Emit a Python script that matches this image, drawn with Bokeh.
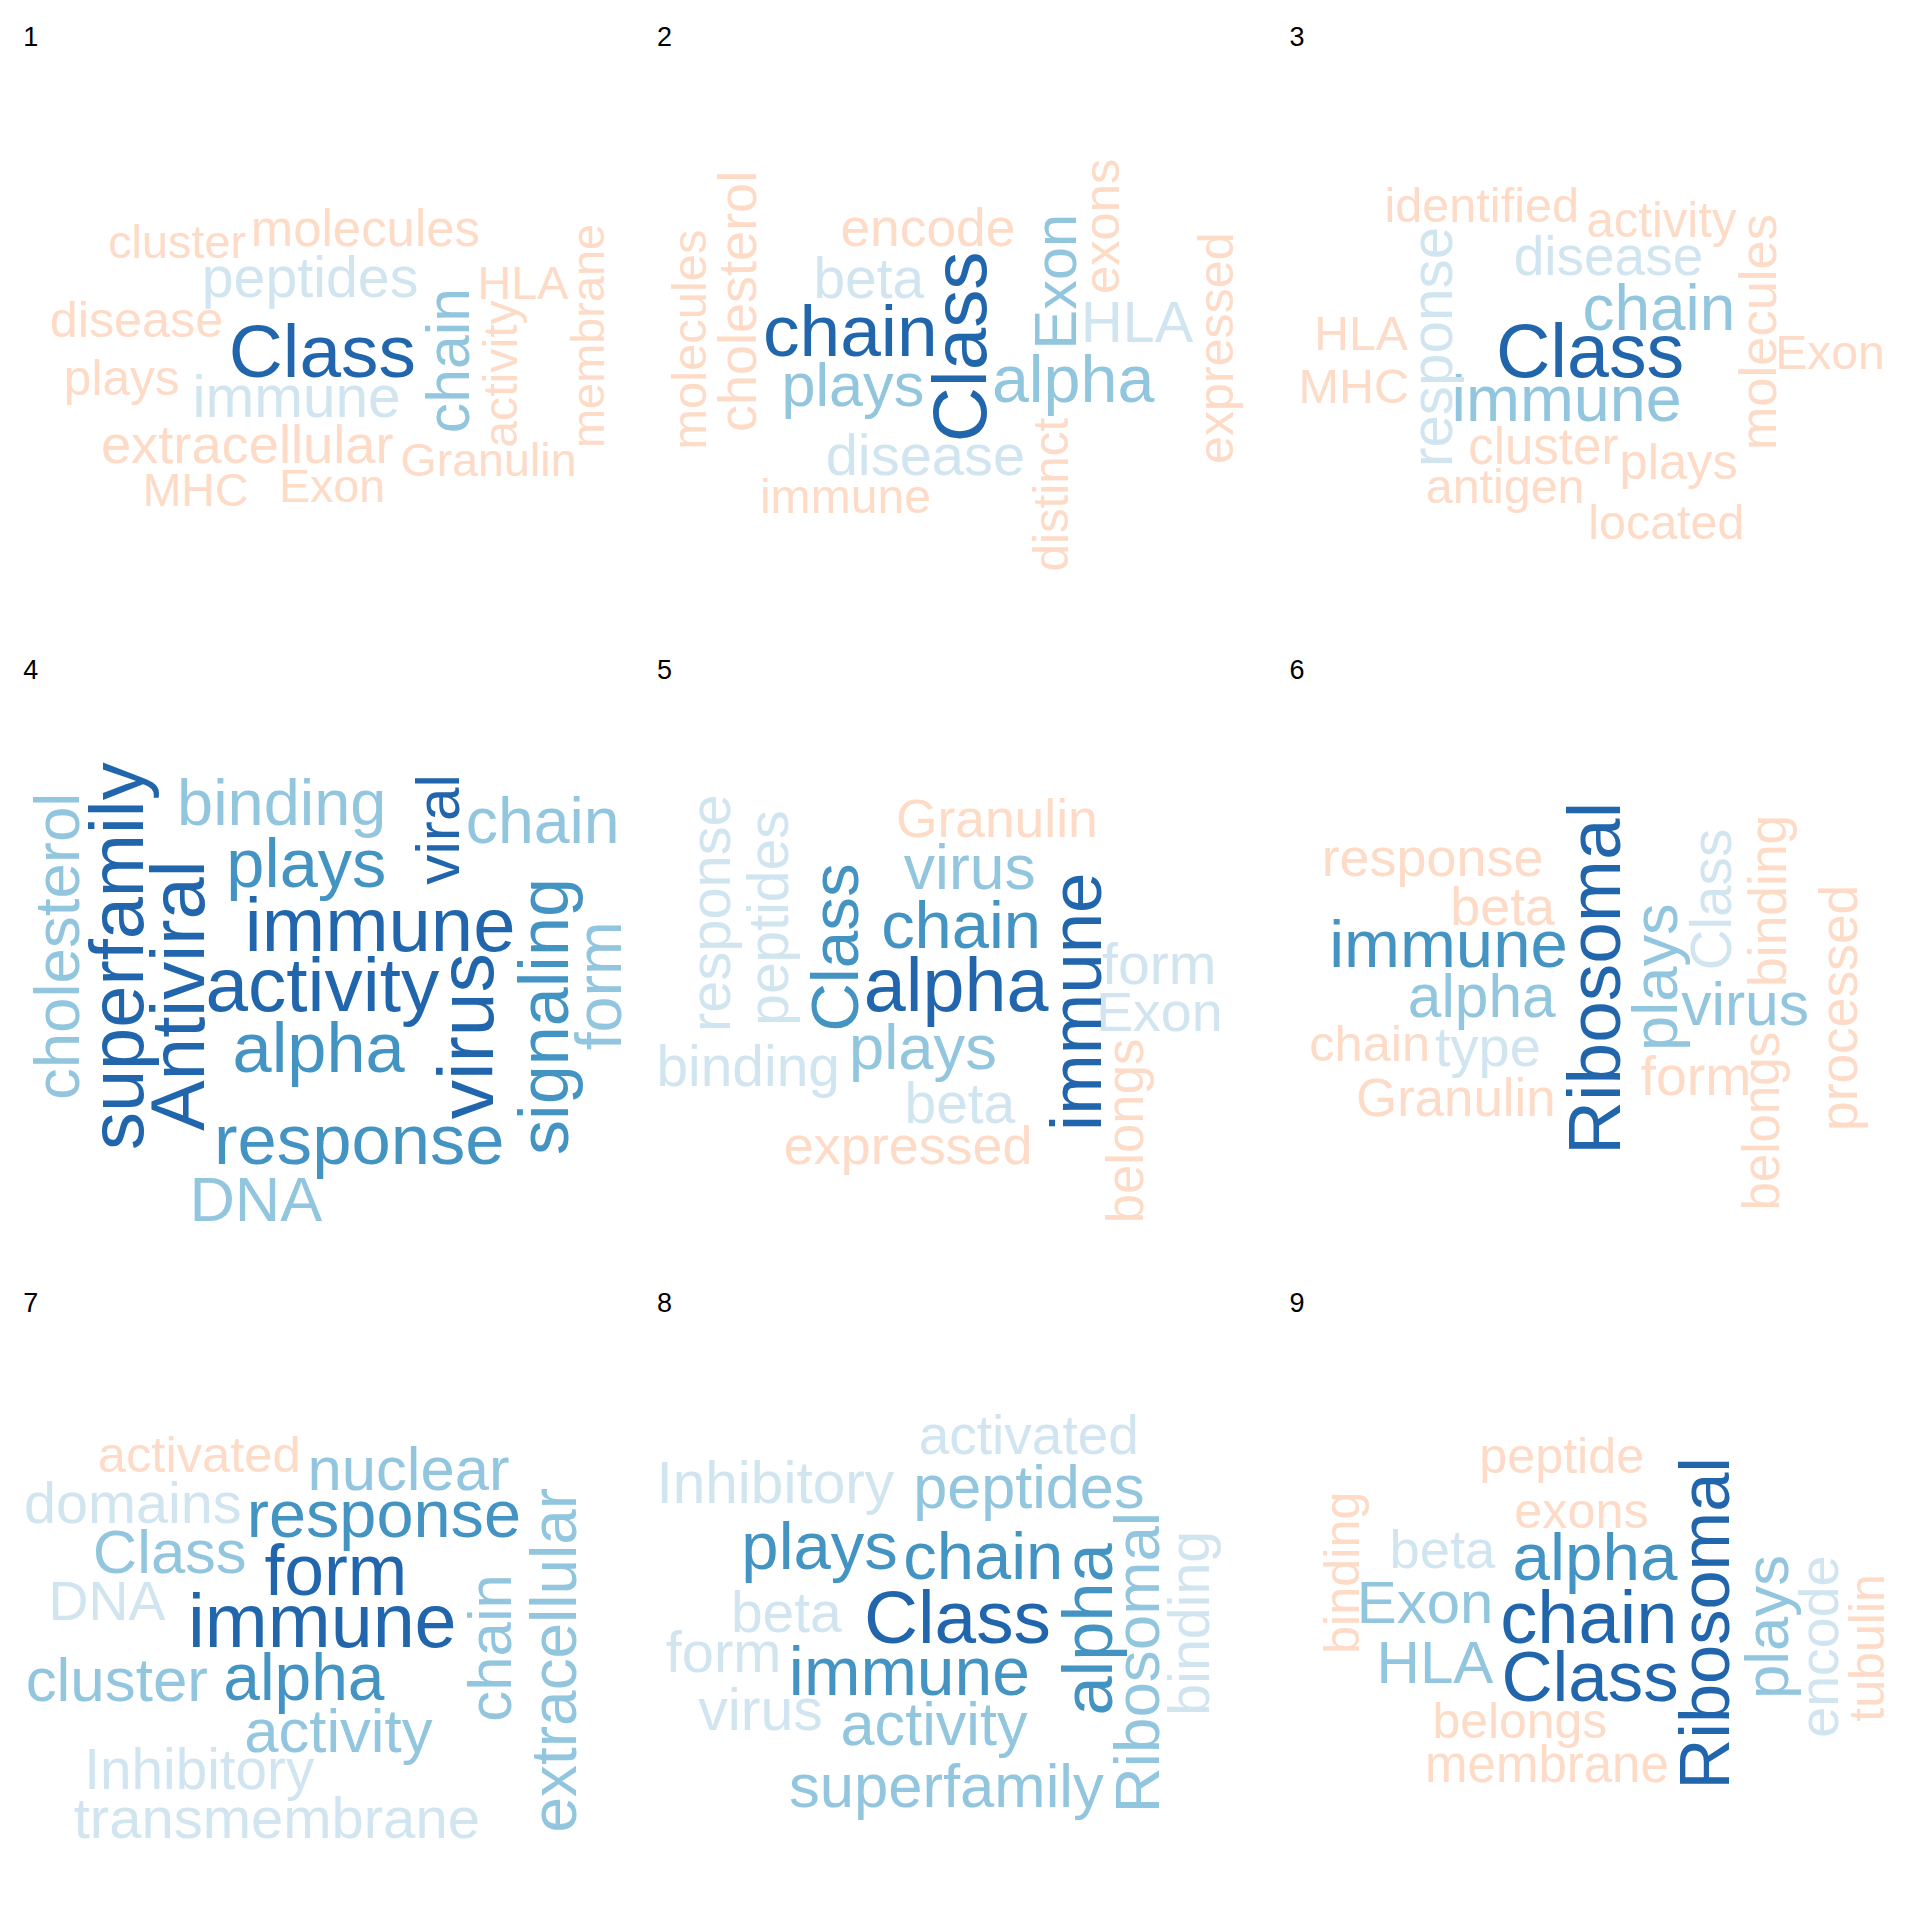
from math import pi

from bokeh.plotting import figure
from bokeh.models import ColumnDataSource, Range1d
from bokeh.core.properties import value
from bokeh.embed import file_html
from bokeh.resources import INLINE

# colour tiers (word frequency), RdBu-like
palette = {1: "#FDDBC7", 2: "#D1E5F0", 3: "#92C5DE", 4: "#4393C3", 5: "#2166AC"}

# word, centre x, centre y, length along the word, tier, vertical
panel_1 = [
    ("cluster", 150, 203, 112, 1, 0), ("molecules", 303, 192, 186, 1, 0),
    ("peptides", 258, 231, 176, 2, 0), ("disease", 117, 266, 141, 1, 0),
    ("Class", 268, 291, 152, 5, 0), ("plays", 105, 313, 94, 1, 0),
    ("immune", 247, 328, 169, 2, 0), ("extracellular", 207, 367, 238, 1, 0),
    ("MHC", 165, 404, 86, 1, 0), ("Exon", 276, 401, 86, 1, 0),
    ("Granulin", 403, 380, 143, 1, 0), ("chain", 370, 299, 118, 3, 1),
    ("activity", 412, 310, 120, 1, 1), ("HLA", 431, 236, 74, 1, 0),
    ("membrane", 484, 279, 182, 1, 1),
]
panel_2 = [
    ("molecules", 566, 282, 179, 1, 1), ("cholesterol", 605, 251, 212, 1, 1),
    ("encode", 760, 191, 142, 1, 0), ("beta", 712, 232, 90, 2, 0),
    ("chain", 697, 275, 142, 5, 0), ("Class", 786, 288, 155, 5, 1),
    ("Exon", 864, 235, 110, 3, 1), ("exons", 901, 190, 110, 1, 1),
    ("HLA", 930, 268, 91, 2, 0), ("plays", 699, 319, 116, 3, 0),
    ("alpha", 878, 314, 132, 3, 0), ("expressed", 994, 289, 188, 1, 1),
    ("disease", 758, 376, 162, 2, 0), ("immune", 693, 409, 139, 1, 0),
    ("distinct", 860, 408, 125, 1, 1),
]
panel_3 = [
    ("identified", 1210, 173, 158, 1, 0), ("activity", 1356, 185, 122, 1, 0),
    ("disease", 1313, 214, 154, 2, 0), ("response", 1169, 288, 195, 2, 1),
    ("molecules", 1434, 276, 192, 1, 1), ("chain", 1354, 256, 124, 3, 0),
    ("HLA", 1112, 277, 76, 1, 0), ("Exon", 1493, 292, 89, 1, 0),
    ("Class", 1298, 291, 153, 5, 0), ("MHC", 1106, 320, 90, 1, 0),
    ("immune", 1279, 330, 187, 3, 0), ("cluster", 1260, 369, 122, 1, 0),
    ("plays", 1370, 381, 96, 1, 0), ("antigen", 1229, 401, 129, 1, 0),
    ("located", 1360, 430, 127, 1, 0),
]
panel_4 = [
    ("cholesterol", 52, 775, 250, 3, 1), ("superfamily", 101, 783, 315, 5, 1),
    ("Antiviral", 150, 815, 220, 5, 1), ("binding", 235, 658, 170, 3, 0),
    ("plays", 255, 708, 130, 4, 0), ("viral", 362, 680, 90, 5, 1),
    ("chain", 447, 673, 125, 3, 0), ("immune", 315, 757, 220, 5, 0),
    ("activity", 268, 806, 190, 5, 0), ("virus", 385, 848, 135, 5, 1),
    ("signaling", 448, 832, 225, 4, 1), ("form", 493, 807, 105, 3, 1),
    ("alpha", 265, 857, 140, 4, 0), ("response", 298, 932, 236, 4, 0),
    ("DNA", 214, 980, 108, 3, 0),
]
panel_5 = [
    ("response", 583, 748, 193, 2, 1), ("peptides", 630, 752, 175, 2, 1),
    ("Class", 684, 776, 137, 4, 1), ("Granulin", 816, 671, 164, 1, 0),
    ("virus", 794, 711, 107, 3, 0), ("chain", 787, 757, 130, 4, 0),
    ("alpha", 783, 806, 150, 5, 0), ("immune", 880, 820, 210, 5, 1),
    ("form", 948, 789, 93, 2, 0), ("Exon", 948, 828, 103, 2, 0),
    ("binding", 614, 872, 149, 2, 0), ("plays", 756, 857, 120, 3, 0),
    ("beta", 786, 902, 90, 2, 0), ("expressed", 744, 936, 202, 1, 0),
    ("belongs", 920, 925, 150, 1, 1),
]
panel_6 = [
    ("response", 1170, 702, 180, 1, 0), ("beta", 1227, 742, 85, 1, 0),
    ("immune", 1183, 773, 194, 4, 0), ("alpha", 1210, 815, 120, 3, 0),
    ("chain", 1119, 854, 98, 1, 0), ("type", 1215, 856, 86, 2, 0),
    ("Granulin", 1189, 898, 162, 1, 0), ("Ribosomal", 1301, 801, 287, 5, 1),
    ("plays", 1351, 800, 120, 3, 1), ("Class", 1397, 737, 115, 2, 1),
    ("virus", 1424, 822, 104, 3, 0), ("form", 1384, 880, 90, 1, 0),
    ("binding", 1442, 738, 140, 1, 1), ("belongs", 1437, 917, 145, 1, 1),
    ("processed", 1500, 825, 200, 1, 1),
]
panel_7 = [
    ("activated", 168, 1188, 165, 1, 0), ("nuclear", 338, 1199, 164, 3, 0),
    ("domains", 114, 1227, 177, 2, 0), ("response", 318, 1236, 223, 4, 0),
    ("Class", 144, 1267, 125, 3, 0), ("form", 279, 1282, 116, 5, 0),
    ("DNA", 93, 1307, 95, 2, 0), ("immune", 268, 1323, 218, 5, 0),
    ("chain", 404, 1345, 120, 3, 1), ("extracellular", 456, 1355, 280, 3, 1),
    ("cluster", 101, 1371, 148, 3, 0), ("alpha", 253, 1369, 131, 4, 0),
    ("activity", 281, 1412, 153, 3, 0), ("Inhibitory", 168, 1444, 187, 2, 0),
    ("transmembrane", 231, 1483, 330, 2, 0),
]
panel_8 = [
    ("activated", 842, 1172, 179, 2, 0), ("Inhibitory", 636, 1211, 193, 2, 0),
    ("peptides", 842, 1214, 188, 3, 0), ("plays", 672, 1262, 127, 4, 0),
    ("chain", 805, 1270, 130, 4, 0), ("alpha", 890, 1330, 140, 4, 1),
    ("Ribosomal", 930, 1357, 245, 3, 1), ("binding", 972, 1325, 150, 2, 1),
    ("beta", 645, 1316, 90, 2, 0), ("Class", 784, 1320, 152, 5, 0),
    ("form", 594, 1348, 94, 2, 0), ("immune", 745, 1364, 196, 4, 0),
    ("virus", 624, 1395, 101, 2, 0), ("activity", 765, 1407, 152, 3, 0),
    ("superfamily", 775, 1457, 256, 3, 0),
]
panel_9 = [
    ("peptide", 1275, 1189, 134, 1, 0), ("exons", 1291, 1233, 109, 1, 0),
    ("binding", 1096, 1284, 132, 1, 1), ("beta", 1178, 1265, 86, 2, 0),
    ("alpha", 1302, 1271, 134, 4, 0), ("Ribosomal", 1391, 1325, 270, 5, 1),
    ("Exon", 1164, 1308, 111, 3, 0), ("chain", 1297, 1320, 144, 5, 0),
    ("HLA", 1172, 1357, 95, 3, 0), ("Class", 1298, 1368, 144, 5, 0),
    ("plays", 1441, 1328, 117, 3, 1), ("encode", 1484, 1344, 148, 2, 1),
    ("tubulin", 1523, 1345, 120, 1, 1), ("belongs", 1241, 1404, 142, 1, 0),
    ("membrane", 1263, 1440, 198, 1, 0),
]
panels = [panel_1, panel_2, panel_3, panel_4, panel_5, panel_6, panel_7, panel_8, panel_9]
panel_labels = ["1", "2", "3", "4", "5", "6", "7", "8", "9"]
label_x = [31, 546, 1060, 31, 546, 1060, 31, 546, 1060]
label_y = [36, 36, 36, 550, 550, 550, 1064, 1064, 1064]

# Arial advance widths (em/1000) to size each word from its measured length
adv = dict(a=556, b=556, c=500, d=556, e=556, f=278, g=556, h=556, i=222, j=222,
           k=500, l=222, m=833, n=556, o=556, p=556, q=556, r=333, s=500, t=278,
           u=556, v=500, w=722, x=500, y=500, z=500, A=667, C=722, D=722, E=667,
           G=778, H=722, I=278, L=556, M=833, N=722, R=722, S=667)

SCALE = 1920 / 1560  # reading coordinates -> page pixels
W = 1904

p = figure(width=W, height=W, output_backend="svg", toolbar_location=None,
           x_range=Range1d(8 / SCALE, (8 + W) / SCALE),
           y_range=Range1d(-(8 + W) / SCALE, -8 / SCALE))
p.axis.visible = False
p.grid.visible = False
p.outline_line_color = None
p.min_border = 0

for words in panels:
    for vert in (0, 1):
        rows = [w for w in words if w[5] == vert]
        sizes = [r[3] / (sum(adv[c] for c in r[0]) / 1000) * SCALE for r in rows]
        src = ColumnDataSource(data=dict(
            x=[r[1] for r in rows], y=[-r[2] for r in rows],
            text=[r[0] for r in rows],
            size=["%.1fpx" % s for s in sizes],
            color=[palette[r[4]] for r in rows]))
        p.text(x="x", y="y", text="text", source=src, text_font_size="size",
               text_color="color", text_align="center", text_baseline="middle",
               angle=pi / 2 if vert else 0,
               text_font=value("Liberation Sans"))

p.text(x=label_x, y=[-v for v in label_y], text=panel_labels, text_align="center",
       text_baseline="middle", text_font_size="27px", text_color="black",
       text_font=value("Liberation Sans"))

open("out.html", "w").write(file_html(p, INLINE))
